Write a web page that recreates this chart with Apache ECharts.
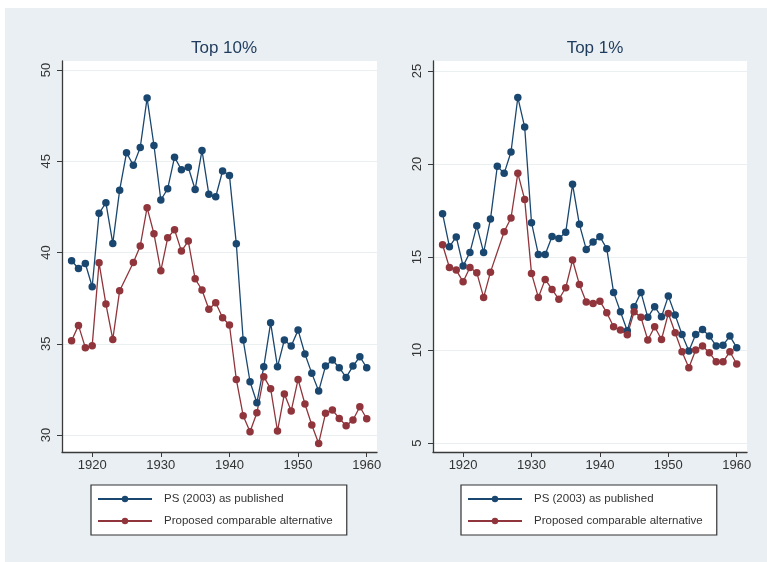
<!DOCTYPE html>
<html>
<head>
<meta charset="utf-8">
<script src="https://cdn.jsdelivr.net/npm/echarts@6/dist/echarts.min.js"></script>
<style>
  html, body { margin: 0; padding: 0; background: #fff; }
  #chart { width: 767px; height: 562px; }
</style>
</head>
<body>
<div id="chart"></div>
<script>
// ======================
// DATA
// ======================

const years = [1917, 1918, 1919, 1920, 1921, 1922, 1923, 1924, 1925, 1926,
    1927, 1928, 1929, 1930, 1931, 1932, 1933, 1934, 1935, 1936,
    1937, 1938, 1939, 1940, 1941, 1942, 1943, 1944, 1945, 1946,
    1947, 1948, 1949, 1950, 1951, 1952, 1953, 1954, 1955, 1956,
    1957, 1958, 1959, 1960];

// Top 10% share
const top10Published = [39.55, 39.13, 39.4, 38.13, 42.15, 42.73, 40.5, 43.42, 45.47, 44.78,
    45.76, 48.47, 45.87, 42.88, 43.5, 45.23, 44.54, 44.68, 43.46, 45.6,
    43.19, 43.06, 44.47, 44.23, 40.48, 35.21, 32.92, 31.77, 33.74, 36.15,
    33.74, 35.21, 34.88, 35.75, 34.44, 33.38, 32.41, 33.78, 34.11, 33.69,
    33.16, 33.78, 34.29, 33.69];
const top10Alternative = [35.17, 36.01, 34.79, 34.9, 39.44, 37.18, 35.24, 37.91, null, 39.46,
    40.36, 42.46, 41.03, 39.0, 40.81, 41.25, 40.08, 40.63, 38.56, 37.95,
    36.89, 37.25, 36.43, 36.03, 33.05, 31.06, 30.18, 31.22, 33.2, 32.54,
    30.22, 32.25, 31.32, 33.05, 31.7, 30.55, 29.54, 31.19, 31.37, 30.91,
    30.51, 30.82, 31.55, 30.89];

// Top 1% share
const top1Published = [17.33, 15.56, 16.08, 14.52, 15.25, 16.68, 15.25, 17.04, 19.88, 19.5,
    20.65, 23.58, 21.99, 16.85, 15.14, 15.14, 16.11, 16.0, 16.33, 18.91,
    16.76, 15.41, 15.81, 16.09, 15.45, 13.1, 12.06, 11.04, 12.33, 13.1,
    11.76, 12.33, 11.79, 12.9, 11.88, 10.84, 9.95, 10.84, 11.11, 10.75,
    10.22, 10.26, 10.75, 10.13];
const top1Alternative = [15.66, 14.44, 14.3, 13.67, 14.44, 14.16, 12.83, 14.19, null, 16.36,
    17.1, 19.5, 18.1, 14.12, 12.83, 13.8, 13.26, 12.73, 13.35, 14.84,
    13.53, 12.58, 12.51, 12.63, 12.01, 11.25, 11.08, 10.82, 12.06, 11.76,
    10.54, 11.25, 10.57, 11.97, 10.93, 9.91, 9.05, 10.0, 10.22, 9.86,
    9.37, 9.37, 9.91, 9.25];

const xTicks = [1920, 1930, 1940, 1950, 1960];
const top10Ticks = [30, 35, 40, 45, 50];
const top1Ticks = [5, 10, 15, 20, 25];

const seriesNames = ['PS (2003) as published', 'Proposed comparable alternative'];
const panelTitles = ['Top 10%', 'Top 1%'];

// ======================
// STYLE
// ======================

const BLUE = '#1a476f';
const RED = '#90353b';
const AXIS = '#3a3a3a';
const FONT = 'Liberation Sans, Arial, sans-serif';

const pairs = vals => years.map((y, i) => [y, vals[i]]);

function xAxisFor(gridIndex) {
    return {
        type: 'value',
        gridIndex,
        min: 1915.6,
        max: 1961.5,
        axisLine: { show: true, onZero: false, lineStyle: { color: AXIS, width: 1.3 } },
        axisTick: { show: true, length: 5, customValues: xTicks, lineStyle: { color: AXIS } },
        axisLabel: {
            customValues: xTicks, margin: 7, color: '#333',
            fontFamily: FONT, fontSize: 13,
            formatter: v => String(v)
        },
        splitLine: { show: false }
    };
}

function yAxisFor(gridIndex, min, max, ticks) {
    return {
        type: 'value',
        gridIndex,
        min,
        max,
        axisLine: { show: true, onZero: false, lineStyle: { color: AXIS, width: 1.3 } },
        axisTick: { show: true, length: 5, customValues: ticks, lineStyle: { color: AXIS } },
        axisLabel: {
            customValues: ticks, rotate: 90, margin: 9, color: '#333',
            fontFamily: FONT, fontSize: 13,
            formatter: v => String(v)
        },
        splitLine: { show: true, lineStyle: { color: '#eaeff2', width: 1.2 } }
    };
}

function lineSeries(name, color, xi, vals) {
    return {
        name,
        type: 'line',
        xAxisIndex: xi,
        yAxisIndex: xi,
        data: pairs(vals),
        connectNulls: true,
        symbol: 'circle',
        symbolSize: 7.5,
        itemStyle: { color },
        lineStyle: { color, width: 1.3 },
        emphasis: { disabled: true },
        animation: false
    };
}

function legendFor(left) {
    return {
        left,
        top: 485,
        orient: 'vertical',
        data: seriesNames,
        itemWidth: 54,
        itemHeight: 8,
        itemGap: 8,
        padding: [7, 14, 7, 6],
        borderColor: '#333',
        borderWidth: 1.2,
        backgroundColor: '#fff',
        selectedMode: false,
        textStyle: {
            color: '#333', fontFamily: FONT, fontSize: 11.5,
            lineHeight: 14, padding: [0, 0, 0, 7]
        }
    };
}

const chart = echarts.init(document.getElementById('chart'));

chart.setOption({
    animation: false,
    graphic: [{
        type: 'rect',
        z: -100,
        silent: true,
        shape: { x: 5, y: 8, width: 762, height: 554 },
        style: { fill: '#e9eff2' }
    }],
    title: [
        { text: panelTitles[0], left: 219, top: 35, textAlign: 'center',
          textStyle: { color: '#1e3a5c', fontFamily: FONT, fontSize: 17, fontWeight: 'normal' } },
        { text: panelTitles[1], left: 590, top: 35, textAlign: 'center',
          textStyle: { color: '#1e3a5c', fontFamily: FONT, fontSize: 17, fontWeight: 'normal' } }
    ],
    legend: [legendFor(91), legendFor(461)],
    grid: [
        { left: 62, top: 61, width: 315, height: 391, show: true,
          backgroundColor: '#fff', borderWidth: 0 },
        { left: 433, top: 61, width: 314, height: 391, show: true,
          backgroundColor: '#fff', borderWidth: 0 }
    ],
    xAxis: [xAxisFor(0), xAxisFor(1)],
    yAxis: [
        yAxisFor(0, 29.07, 50.5, top10Ticks),
        yAxisFor(1, 4.52, 25.54, top1Ticks)
    ],
    series: [
        lineSeries(seriesNames[0], BLUE, 0, top10Published),
        lineSeries(seriesNames[1], RED, 0, top10Alternative),
        lineSeries(seriesNames[0], BLUE, 1, top1Published),
        lineSeries(seriesNames[1], RED, 1, top1Alternative)
    ]
});
</script>
</body>
</html>
